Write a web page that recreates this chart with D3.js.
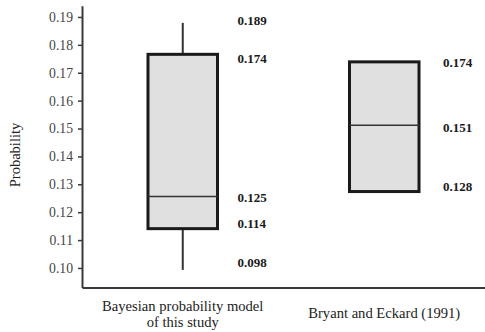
<!DOCTYPE html>
<html><head><meta charset="utf-8">
<script src="https://cdn.jsdelivr.net/npm/d3@7"></script>
<style>body{margin:0;background:#fff}svg{display:block;font-family:"Liberation Serif","Times New Roman",Times,serif}</style>
</head><body>
<script>
const categories = ["Bayesian probability model|of this study", "Bryant and Eckard (1991)"];
const whiskerLow = [0.0993, null];
const q1 = [0.1141, 0.1274];
const median = [0.1256, 0.1512];
const q3 = [0.1766, 0.1739];
const whiskerHigh = [0.1879, null];
const valueLabels = [
  [["0.189", 0.1888], ["0.174", 0.1752], ["0.125", 0.1254], ["0.114", 0.1158], ["0.098", 0.1020]],
  [["0.174", 0.1737], ["0.151", 0.1505], ["0.128", 0.1292]]
];
const yTicks = [0.10, 0.11, 0.12, 0.13, 0.14, 0.15, 0.16, 0.17, 0.18, 0.19];

const W = 485, H = 332;
const svg = d3.select("body").append("svg").attr("width", W).attr("height", H);
const x = d3.scaleBand().domain(categories).range([82, 485]).padding(0);
const y = d3.scaleLinear().domain([0.093, 0.194]).range([287.5, 5.8]);

// axes
const ya = svg.append("g").attr("transform", "translate(82,0)")
  .call(d3.axisLeft(y).tickValues(yTicks).tickFormat(d3.format(".2f")).tickSize(4).tickSizeOuter(0));
ya.attr("font-family", null).attr("font-size", null);
ya.select(".domain").attr("stroke", "#3a3a3a").attr("stroke-width", 2);
ya.selectAll(".tick line").attr("stroke", "#3a3a3a").attr("stroke-width", 1.5);
ya.selectAll(".tick text").attr("font-size", 13.7).attr("fill", "#444").attr("x", -9);

const xa = svg.append("g").attr("transform", "translate(0,287.5)")
  .call(d3.axisBottom(x).tickSize(0).tickSizeOuter(0).tickFormat(""));
xa.select(".domain").attr("stroke", "#3a3a3a").attr("stroke-width", 2);

// category labels
categories.forEach((c, i) => {
  const lines = c.split("|");
  const cx = x(c) + x.bandwidth() / 2;
  const y0 = lines.length > 1 ? 311 : 318;
  const t = svg.append("text").attr("font-size", 14.6).attr("fill", "#222")
    .attr("text-anchor", "middle");
  lines.forEach((l, j) => t.append("tspan").attr("x", cx).attr("y", y0 + j * 15.5).text(l));
});

// y title
svg.append("text").attr("transform", "translate(20,155) rotate(-90)")
  .attr("text-anchor", "middle").attr("font-size", 14.5).attr("fill", "#222")
  .text("Probability");

// boxes
const bw = x.bandwidth() * 0.345;
const labelGap = [20, 24];
categories.forEach((c, i) => {
  const cx = x(c) + x.bandwidth() / 2;
  const g = svg.append("g");
  if (whiskerHigh[i] != null) {
    g.append("line").attr("x1", cx).attr("x2", cx).attr("y1", y(whiskerHigh[i])).attr("y2", y(q3[i]))
      .attr("stroke", "#333").attr("stroke-width", 2);
  }
  if (whiskerLow[i] != null) {
    g.append("line").attr("x1", cx).attr("x2", cx).attr("y1", y(q1[i])).attr("y2", y(whiskerLow[i]))
      .attr("stroke", "#333").attr("stroke-width", 2);
  }
  g.append("rect").attr("x", cx - bw / 2).attr("y", y(q3[i])).attr("width", bw)
    .attr("height", y(q1[i]) - y(q3[i])).attr("fill", "#e0e0e0").attr("stroke", "#1a1a1a").attr("stroke-width", 3);
  g.append("line").attr("x1", cx - bw / 2).attr("x2", cx + bw / 2).attr("y1", y(median[i])).attr("y2", y(median[i]))
    .attr("stroke", "#333").attr("stroke-width", 1.5);
  valueLabels[i].forEach(([s, v]) => {
    g.append("text").attr("x", cx + bw / 2 + labelGap[i]).attr("y", y(v)).attr("dy", "0.35em")
      .attr("font-size", 13).attr("font-weight", "bold").attr("fill", "#1a1a1a").text(s);
  });
});
</script>
</body></html>
